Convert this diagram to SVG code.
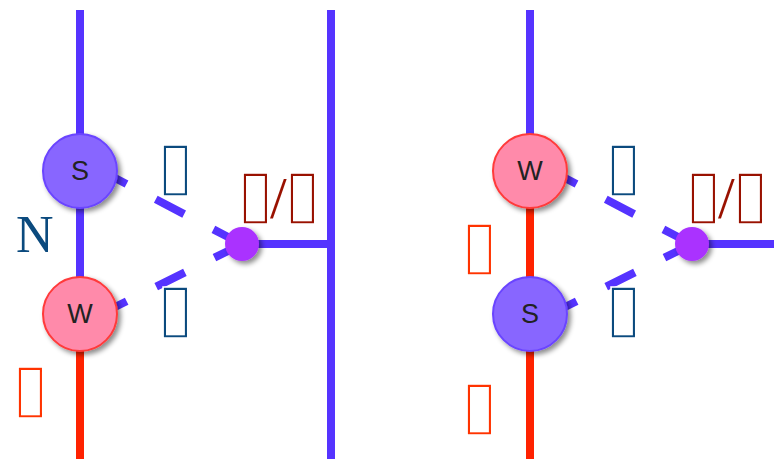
<svg xmlns="http://www.w3.org/2000/svg" width="774" height="459" viewBox="0 0 774 459">
<defs>
<style>
.blue{stroke:#5533ff;stroke-width:8;fill:none}
.red{stroke:#ff2200;stroke-width:8;fill:none}
.dash{stroke:#5533ff;stroke-width:8;fill:none;stroke-dasharray:13 33 32 33 40}
.sn{fill:#8866ff;stroke:#6a44ff;stroke-width:2}
.wn{fill:#ff8aaa;stroke:#ff3a3a;stroke-width:2}
.dot{fill:#aa33ff}
.nl{font-family:"Liberation Sans",Arial,sans-serif;font-size:27px;fill:#222;text-anchor:middle}
.lb{font-family:"Liberation Serif",serif;font-size:52px}
.sl{font-family:"Liberation Serif",serif;font-size:60px;stroke:none}
.tf{font-family:"DejaVu Sans",sans-serif;font-size:67px;stroke:#fff;stroke-width:1.6px}
.b{fill:#0b4a7e}
.r{fill:#ff3300}
.m{fill:#991100}
</style>
<filter id="sh" x="-30%" y="-30%" width="170%" height="170%">
<feDropShadow dx="3" dy="3" stdDeviation="2.5" flood-color="#000" flood-opacity="0.45"/>
</filter>
</defs>
<g id="connectors">
<line class="blue" x1="80" y1="10" x2="80" y2="300"/>
<line class="red" x1="80" y1="330" x2="80" y2="459"/>
<line class="blue" x1="331" y1="10" x2="331" y2="459"/>
<line class="blue" x1="242" y1="244" x2="331" y2="244"/>
<line class="dash" x1="115" y1="178" x2="230" y2="238"/>
<line class="dash" x1="115" y1="307" x2="230" y2="250"/>
<line class="blue" x1="530" y1="10" x2="530" y2="150"/>
<line class="red" x1="530" y1="190" x2="530" y2="459"/>
<line class="blue" x1="692" y1="244" x2="774" y2="244"/>
<line class="dash" x1="565" y1="178" x2="680" y2="238"/>
<line class="dash" x1="565" y1="307" x2="680" y2="250"/>
</g>
<g id="S1"><circle class="sn" cx="80" cy="171" r="37" filter="url(#sh)"/><text class="nl" x="80" y="180">S</text></g>
<g id="W1"><circle class="wn" cx="80" cy="314" r="37" filter="url(#sh)"/><text class="nl" x="80" y="323">W</text></g>
<g id="J1"><circle class="dot" cx="242" cy="244" r="17" filter="url(#sh)"/></g>
<g id="W2"><circle class="wn" cx="530" cy="171" r="37" filter="url(#sh)"/><text class="nl" x="530" y="180">W</text></g>
<g id="S2"><circle class="sn" cx="530" cy="314" r="37" filter="url(#sh)"/><text class="nl" x="530" y="323">S</text></g>
<g id="J2"><circle class="dot" cx="692" cy="244" r="17" filter="url(#sh)"/></g>
<g id="labels">
<text class="lb b" x="16" y="252">N</text>
<text class="tf b" x="157" y="188">▯</text>
<text class="tf b" x="157" y="330">▯</text>
<text class="m" x="237" y="216"><tspan class="tf">▯</tspan><tspan class="sl" x="270" y="218">/</tspan><tspan class="tf" x="284" y="216">▯</tspan></text>
<text class="tf r" x="12" y="410">▯</text>
<text class="tf b" x="605" y="188">▯</text>
<text class="tf b" x="605" y="330">▯</text>
<text class="m" x="685" y="216"><tspan class="tf">▯</tspan><tspan class="sl" x="718" y="218">/</tspan><tspan class="tf" x="732" y="216">▯</tspan></text>
<text class="tf r" x="461" y="267">▯</text>
<text class="tf r" x="461" y="427">▯</text>
</g>
</svg>
